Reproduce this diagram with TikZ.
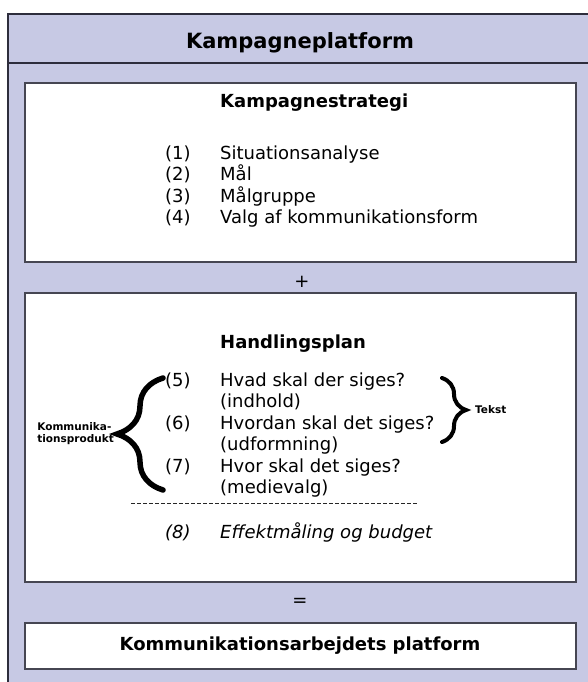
\documentclass[tikz,border=0pt]{standalone}
\usepackage{fontspec}
\setmainfont{DejaVu Sans}
\usetikzlibrary{positioning,decorations.pathreplacing}
\definecolor{lavender}{RGB}{199,201,228}
\definecolor{framecol}{RGB}{45,45,60}
\definecolor{boxcol}{RGB}{70,70,82}

\begin{document}
\begin{tikzpicture}[x=1pt, y=-1pt,
  txt/.style={inner sep=0pt, anchor=base west, font=\fontsize{18}{21.5}\selectfont},
  itxt/.style={txt, font=\itshape\fontsize{18}{21.5}\selectfont},
  head/.style={inner sep=0pt, anchor=base west, font=\bfseries\fontsize{18}{21.5}\selectfont},
  panel/.style={draw=boxcol, line width=1.8pt, fill=white},
  small/.style={inner sep=0pt, align=left, font=\bfseries\fontsize{10.5}{12}\selectfont},
  curly/.style={decorate, decoration={brace, amplitude=#1}, line cap=round}]
\useasboundingbox (0,0) rectangle (588,682);
\clip (0,0) rectangle (588,682);
\fill[white] (0,0) rectangle (588,682);

% outer frame
\draw[framecol, line width=1.5pt, fill=lavender] (8,14) rectangle (620,720);
\draw[framecol, line width=2.2pt] (8,63) -- (620,63);
\node[inner sep=0pt, font=\bfseries\fontsize{21}{24}\selectfont]
  (platform) at (300,43) {Kampagneplatform};

% strategy
\draw[panel] (25,83) rectangle (576,262);
\node[head] (strat) at (220,107) {Kampagnestrategi};
\node[txt] (n1) at (165,159) {(1)};
\node[txt] (s1) at (220,159) {Situationsanalyse};
\node[txt] (n2) at (165,180.5) {(2)};
\node[txt] (s2) at (220,180.5) {Mål};
\node[txt] (n3) at (165,202) {(3)};
\node[txt] (s3) at (220,202) {Målgruppe};
\node[txt] (n4) at (165,223.5) {(4)};
\node[txt] (s4) at (220,223.5) {Valg af kommunikationsform};

\node[inner sep=0pt, font=\fontsize{18}{21.5}\selectfont] (plus) at (302,282) {+};

% action plan
\draw[panel] (25,293) rectangle (576,582);
\node[head] (plan) at (220,348) {Handlingsplan};
\node[txt] (n5) at (165,386) {(5)};
\node[txt] (h5) at (220,386) {Hvad skal der siges?};
\node[txt] (h5b) at (220,407.5) {(indhold)};
\node[txt] (n6) at (165,429) {(6)};
\node[txt] (h6) at (220,429) {Hvordan skal det siges?};
\node[txt] (h6b) at (220,450.5) {(udformning)};
\node[txt] (n7) at (165,472) {(7)};
\node[txt] (h7) at (220,472) {Hvor skal det siges?};
\node[txt] (h7b) at (220,493.5) {(medievalg)};
\draw[black!85, line width=1pt, dash pattern=on 4pt off 2pt] (131,503) -- (417,503);
\node[itxt] (n8) at (165,538) {(8)};
\node[itxt] (h8) at (220,538) {Effektmåling og budget};

% braces
\coordinate (kp-bot) at (163,490);
\coordinate (kp-top) at (163,378);
\coordinate (kp-tip) at (116,434);
\draw[curly=46pt, line width=5.5pt] (kp-bot) -- (kp-top);
\node[small, left=2pt of kp-tip] (kprod) {Kommunika-\\tionsprodukt};

\coordinate (tk-top) at (442,378);
\coordinate (tk-bot) at (442,442);
\coordinate (tk-tip) at (468,410);
\draw[curly=24pt, line width=4pt] (tk-top) -- (tk-bot);
\node[small, right=7pt of tk-tip] (tekst) {Tekst};

\node[inner sep=0pt, font=\fontsize{18}{21.5}\selectfont] (equals) at (300,602) {=};

% result
\draw[panel] (25,623) rectangle (576,669);
\node[inner sep=0pt, font=\bfseries\fontsize{18}{21.5}\selectfont]
  (result) at (300,646) {Kommunikationsarbejdets platform};
\end{tikzpicture}
\end{document}
